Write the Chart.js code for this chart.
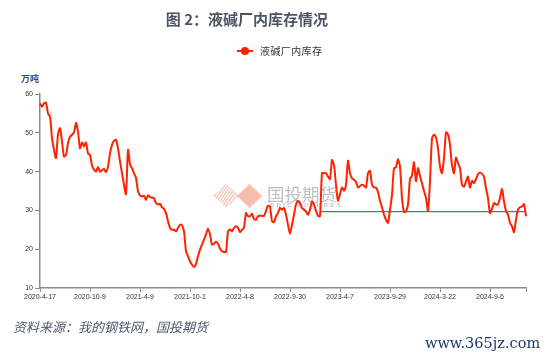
<!DOCTYPE html>
<html>
<head>
<meta charset="utf-8">
<script src="https://cdn.jsdelivr.net/npm/chart.js@4.4.1/dist/chart.umd.min.js"></script>
<style>
  html, body { margin: 0; padding: 0; background: #ffffff; }
  #wrap { position: relative; width: 550px; height: 356px; overflow: hidden; background: #fff; }
  #chart { position: absolute; left: 0; top: 0; }
  .txt { position: absolute; white-space: nowrap; }
  #title { left: 0; width: 494px; top: 8px; text-align: center; font: bold 15px "Noto Sans CJK SC", sans-serif; color: #4a5464; }
  #legend { left: 237px; top: 43px; height: 16px; }
  #legend .ln { position: absolute; left: 0; top: 7px; width: 16px; height: 2px; background: #ff2200; }
  #legend .dot { position: absolute; left: 4px; top: 4px; width: 8px; height: 8px; border-radius: 50%; background: #ff2200; }
  #legend .lt { position: absolute; left: 23px; top: 0px; font: 10px "Noto Sans CJK SC", sans-serif; color: #333; letter-spacing: 0.4px; }
  #unit { left: 21px; top: 72px; font: bold 9px "Noto Sans CJK SC", sans-serif; color: #2e4c9a; }
  #source { left: 13px; top: 317px; font: italic 13px "Noto Sans CJK SC", sans-serif; color: #4e586e; }
  #site { left: 425px; top: 335px; font: 14.5px "DejaVu Serif", serif; color: #1b3a6b; }
</style>
</head>
<body>
<div id="wrap">
  <canvas id="chart" width="550" height="356"></canvas>
  <div class="txt" id="title">图 2：液碱厂内库存情况</div>
  <div class="txt" id="legend"><div class="ln"></div><div class="dot"></div><span class="lt">液碱厂内库存</span></div>
  <div class="txt" id="unit">万吨</div>
  <div class="txt" id="source">资料来源：我的钢铁网，国投期货</div>
  <div class="txt" id="site">www.365jz.com</div>
</div>
<script>
// ---- data (weekly) ----
const tickLabels = ['2020-4-17', '2020-10-9', '2021-4-9', '2021-10-1', '2022-4-8',
                    '2022-9-30', '2023-4-7', '2023-9-29', '2024-3-22', '2024-9-6'];
const tickEvery = 25;

const inventory = [
  57.6, 56.7, 57.6, 57.8, 55.0, 54.2, 48.6, 45.6, 43.5, 49.5,
  51.2, 47.7, 43.9, 44.3, 47.3, 49.0, 49.5, 50.1, 52.6, 50.3,
  46.0, 47.5, 46.5, 47.5, 44.7, 44.3, 41.6, 40.5, 40.0, 41.2,
  40.0, 40.4, 40.7, 39.9, 41.3, 44.7, 46.9, 47.9, 48.2, 46.0,
  42.6, 39.6, 36.6, 34.2, 45.6, 41.9, 40.9, 39.6, 38.4, 34.9,
  33.9, 33.6, 33.8, 32.7, 33.9, 33.4, 33.3, 33.2, 31.9, 31.5,
  31.7, 30.8, 30.4, 29.3, 27.2, 25.5, 25.0, 25.0, 24.6, 25.5,
  26.3, 26.2, 24.6, 19.5, 18.2, 16.9, 16.0, 15.4, 16.2, 18.2,
  19.9, 21.2, 22.5, 23.8, 25.3, 23.8, 21.2, 21.4, 21.9, 21.4,
  20.2, 19.5, 19.3, 19.3, 24.6, 25.1, 24.6, 25.5, 25.9, 25.5,
  24.4, 25.0, 25.6, 29.3, 28.5, 28.5, 29.1, 27.8, 27.6, 28.5,
  28.6, 28.6, 28.6, 29.9, 31.2, 31.0, 27.2, 27.0, 28.5, 29.3,
  30.6, 30.2, 30.6, 28.9, 26.3, 24.0, 26.3, 28.9, 31.5, 32.5,
  31.9, 30.6, 30.2, 29.7, 28.9, 30.2, 32.3, 31.5, 29.9, 28.6,
  28.5, 39.6, 39.6, 39.6, 38.7, 38.1, 43.0, 41.6, 36.6, 32.5,
  34.2, 35.9, 35.1, 36.6, 42.8, 39.6, 38.3, 37.9, 37.3, 35.9,
  36.3, 36.6, 36.4, 35.9, 39.6, 40.2, 36.6, 35.9, 35.9, 34.7,
  32.5, 30.8, 28.9, 27.6, 26.8, 30.2, 34.0, 40.9, 41.1, 43.2,
  41.3, 33.2, 29.6, 29.8, 31.5, 38.1, 39.0, 42.4, 37.5, 40.9,
  38.8, 37.0, 35.0, 33.2, 29.9, 37.5, 48.6, 49.5, 48.8, 46.0,
  41.3, 39.6, 43.5, 50.1, 49.6, 46.9, 41.7, 39.6, 43.6, 42.2,
  40.9, 36.6, 36.1, 37.5, 38.7, 35.9, 37.6, 37.0, 38.1, 39.3,
  39.8, 39.4, 38.7, 35.7, 33.2, 29.3, 30.4, 31.9, 31.5, 31.6,
  33.2, 35.5, 32.3, 29.9, 28.9, 26.8, 25.9, 24.4, 27.6, 30.2,
  30.8, 31.0, 31.6, 28.5
];

// horizontal reference level (blue line) and the week it starts from
const referenceLevel = 29.7;
const referenceStart = 140;

const yTicks = [10, 20, 30, 40, 50, 60];

// ---- build what the library needs ----
const labels = inventory.map((_, i) => (i % tickEvery === 0 ? (tickLabels[i / tickEvery] || '') : ''));
const referenceSeries = inventory.map((_, i) => (i >= referenceStart ? referenceLevel : null));
const lastIndex = inventory.length - 1;

// watermark logo drawn under the data
const watermark = {
  id: 'watermark',
  beforeDatasetsDraw(chart) {
    const c = chart.ctx;
    c.save();
    // striped diamond
    c.beginPath();
    c.moveTo(213, 196); c.lineTo(226, 184); c.lineTo(240, 196); c.lineTo(226, 208); c.closePath();
    c.clip();
    c.strokeStyle = 'rgba(244,150,130,0.55)';
    c.lineWidth = 1.3;
    for (let k = -30; k < 40; k += 3) {
      c.beginPath(); c.moveTo(210 + k, 212); c.lineTo(230 + k, 182); c.stroke();
    }
    c.restore();
    c.save();
    c.fillStyle = 'rgba(244,160,140,0.7)';
    c.beginPath();
    c.moveTo(237, 196); c.lineTo(249.5, 184); c.lineTo(262, 196); c.lineTo(249.5, 208); c.closePath();
    c.fill();
    c.fillStyle = 'rgba(150,156,168,0.65)';
    c.font = '17.5px "Noto Sans CJK SC", sans-serif';
    c.textBaseline = 'middle';
    c.fillText('国投期货', 267, 194);
    c.font = 'bold 6px "Liberation Sans", sans-serif';
    if ('letterSpacing' in c) c.letterSpacing = '2.4px';
    c.fillStyle = 'rgba(160,166,178,0.7)';
    c.fillText('SDIC FUTURES', 270, 205);
    c.restore();
  }
};

new Chart(document.getElementById('chart'), {
  type: 'line',
  data: {
    labels: labels,
    datasets: [
      {
        label: '液碱厂内库存',
        data: inventory,
        borderColor: '#ff2200',
        borderWidth: 2,
        pointRadius: 0,
        tension: 0.25,
        fill: false
      },
      {
        label: 'reference',
        data: referenceSeries,
        borderColor: '#4472c4',
        borderWidth: 1.3,
        pointRadius: 0,
        tension: 0,
        fill: false
      }
    ]
  },
  options: {
    responsive: false,
    animation: false,
    devicePixelRatio: 1,
    layout: { padding: { left: 0, right: 24, top: 94, bottom: 0 } },
    plugins: {
      legend: { display: false },
      title: { display: false },
      tooltip: { enabled: false }
    },
    scales: {
      x: {
        type: 'category',
        offset: false,
        afterFit(scale) { scale.height = 68; },
        border: { display: true, color: '#8a8a8a', width: 1.5 },
        grid: {
          display: true,
          drawOnChartArea: false,
          drawTicks: true,
          tickLength: 4,
          lineWidth: 1,
          color: (ctx) => (ctx.index % tickEvery === 0 || ctx.index === lastIndex) ? '#8a8a8a' : 'rgba(0,0,0,0)'
        },
        ticks: {
          autoSkip: false,
          maxRotation: 0,
          minRotation: 0,
          padding: 1,
          color: '#333',
          font: { family: '"Liberation Sans", Arial, sans-serif', size: 7 }
        }
      },
      y: {
        min: yTicks[0],
        max: yTicks[yTicks.length - 1],
        afterFit(scale) { scale.width = 40; },
        afterBuildTicks(scale) { scale.ticks = yTicks.map(v => ({ value: v })); },
        border: { display: true, color: '#8a8a8a', width: 1.5 },
        grid: {
          display: true,
          drawOnChartArea: false,
          drawTicks: true,
          tickLength: 5,
          color: '#8a8a8a'
        },
        ticks: {
          padding: 2,
          color: '#333',
          font: { family: '"Liberation Sans", Arial, sans-serif', size: 7 }
        }
      }
    }
  },
  plugins: [watermark]
});
</script>
</body>
</html>
